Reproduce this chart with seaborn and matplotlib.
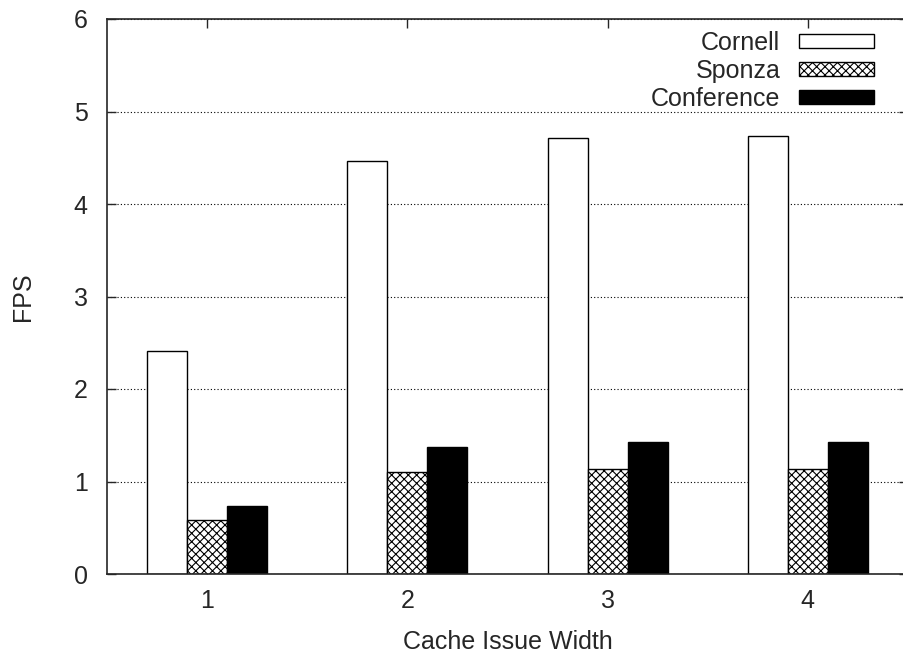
import numpy as np
import pandas as pd
import matplotlib
matplotlib.use("Agg")
import matplotlib.pyplot as plt
import seaborn as sns

# --- Data ---
widths = ["1", "2", "3", "4"]
scenes = ["Cornell", "Sponza", "Conference"]
cornell = [2.41, 4.46, 4.71, 4.73]
sponza = [0.58, 1.10, 1.13, 1.13]
conference = [0.73, 1.37, 1.43, 1.43]
y_ticks = [0, 1, 2, 3, 4, 5, 6]

df = pd.DataFrame({
    "width": widths * 3,
    "scene": [s for s in scenes for _ in widths],
    "fps": cornell + sponza + conference,
})

sns.set_style("ticks")
plt.rcParams["font.family"] = ["Liberation Sans", "DejaVu Sans"]
plt.rcParams["hatch.linewidth"] = 0.8

fig = plt.figure(figsize=(9.04, 6.6), dpi=100)
ax = fig.add_axes([107 / 904, 86 / 660, 801 / 904, 555 / 660])

palette = {"Cornell": "white", "Sponza": "white", "Conference": "black"}
sns.barplot(data=df, x="width", y="fps", hue="scene", hue_order=scenes,
            palette=palette, width=0.6, edgecolor="black", linewidth=1.0,
            saturation=1, ax=ax, legend=False)

# crosshatch for Sponza
for patch in ax.containers[1]:
    patch.set_hatch("xxxx")

ax.set_xlim(-0.5, 3.5)
ax.set_ylim(0, 6)
ax.set_yticks(y_ticks)

ax.set_axisbelow(True)
ax.yaxis.grid(True, linestyle=(0, (1, 2)), color="black", linewidth=0.8)

ax.tick_params(axis="both", direction="in", length=6.5, width=1,
               labelsize=18, top=True, right=True)
ax.tick_params(axis="y", pad=14)
ax.tick_params(axis="x", pad=11)
for sp in ax.spines.values():
    sp.set_linewidth(1.2)

ax.set_xlabel("Cache Issue Width", fontsize=18, labelpad=12)
ax.set_ylabel("FPS", fontsize=18, labelpad=28)

ax.legend(handles=list(ax.containers), labels=scenes, loc="upper right",
          bbox_to_anchor=(0.9576, 0.979), borderaxespad=0, borderpad=0,
          frameon=False, markerfirst=False,
          fontsize=18, handlelength=3.0, handleheight=0.52,
          labelspacing=0.16, handletextpad=0.75)

fig.savefig("out.png", dpi=100)
